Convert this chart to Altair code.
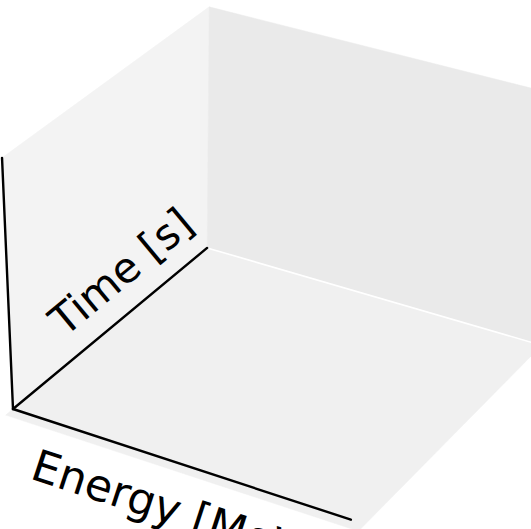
import altair as alt
import numpy as np
import pandas as pd

W, H = 531, 529

# Axis titles of the 3-D box (the vertical axis carries no title)
energy_title = "Energy [MeV]"
time_title = "Time [s]"

# Pane outlines in normalised box units: u = energy, v = time, w = vertical
pane_names = ["left", "back", "floor"]
pane_colors = ["#f3f3f3", "#eaeaea", "#f0f0f0"]
pane_u = [[0, 0, 0, 0], [0, 1.04, 1.04, 0], [0, 1.04, 1.04, 0]]
pane_v = [[0, 1, 1, 0], [1, 1, 1, 1], [-0.035, -0.035, 1, 1]]
pane_w = [[0, 0, 1, 1], [0, 0, 1, 1], [0, 0, 0, 0]]

# Axis lines along the box edges that meet at the front corner
axis_names = ["energy", "time", "vertical"]
axis_end_u = [1, 0, 0]
axis_end_v = [0, 1, 0]
axis_end_w = [0, 0, 1]

# Seam between back pane and floor
seam_u = [0, 1.04]
seam_v = [1, 1]
seam_w = [0, 0]

# Perspective camera (homogeneous 3x4 matrix, screen units, y pointing down)
CAMERA = np.array([
    [319.2, 211.1, -11.1, 13.0],
    [83.0, -140.8, -261.2, 409.0],
    [-0.0532, 0.0819, -0.0636, 1.0],
])


def project(u, v, w):
    p = CAMERA @ np.array([u, v, w, 1.0])
    return p[0] / p[2], p[1] / p[2]


def path_frame(us, vs, ws, close=False):
    pts = list(zip(us, vs, ws))
    if close:
        pts.append(pts[0])
    rows = []
    for k, (u, v, w) in enumerate(pts):
        px, py = project(u, v, w)
        rows.append({"k": k, "px": px, "py": py})
    return pd.DataFrame(rows)


xenc = alt.X("px:Q", scale=alt.Scale(domain=[0, W], nice=False, zero=False), axis=None)
yenc = alt.Y("py:Q", scale=alt.Scale(domain=[0, H], nice=False, zero=False, reverse=True), axis=None)

layers = []

# Panes
for name, col, us, vs, ws in zip(pane_names, pane_colors, pane_u, pane_v, pane_w):
    df = path_frame(us, vs, ws, close=True)
    layers.append(
        alt.Chart(df).mark_line(fill=col, stroke=col, strokeWidth=0.5, interpolate="linear")
        .encode(x=xenc, y=yenc, order="k:Q")
    )

# White seam where the back pane meets the floor
layers.append(
    alt.Chart(path_frame(seam_u, seam_v, seam_w)).mark_line(color="white", strokeWidth=1.6)
    .encode(x=xenc, y=yenc, order="k:Q")
)

# Black axis lines
for name, eu, ev, ew in zip(axis_names, axis_end_u, axis_end_v, axis_end_w):
    df = path_frame([0, eu], [0, ev], [0, ew])
    layers.append(
        alt.Chart(df).mark_line(color="black", strokeWidth=2.4, strokeCap="round")
        .encode(x=xenc, y=yenc, order="k:Q")
    )


def label_layer(text, end, t, pad, size):
    """Title laid along an axis; pad > 0 moves the baseline below the line."""
    x0, y0 = project(0, 0, 0)
    x1, y1 = project(*end)
    dx, dy = x1 - x0, y1 - y0
    length = np.hypot(dx, dy)
    ux, uy = dx / length, dy / length
    nx, ny = -uy, ux
    ax, ay = project(*(t * np.array(end, dtype=float)))
    df = pd.DataFrame({"px": [ax + pad * nx], "py": [ay + pad * ny], "label": [text]})
    angle = float(np.degrees(np.arctan2(dy, dx))) % 360
    return alt.Chart(df).mark_text(
        font="DejaVu Sans", fontSize=size, color="black", align="center",
        baseline="alphabetic", angle=angle,
    ).encode(x=xenc, y=yenc, text="label:N")


layers.append(label_layer(energy_title, (1, 0, 0), 0.535, 61, 44))
layers.append(label_layer(time_title, (0, 1, 0), 0.66, -22, 42))

chart = (
    alt.layer(*layers)
    .properties(width=W, height=H, padding=0, autosize=alt.AutoSizeParams(type="none"), background="white")
    .configure_view(stroke=None)
)

chart.save("out.html", embed_options={"renderer": "svg", "actions": False})
